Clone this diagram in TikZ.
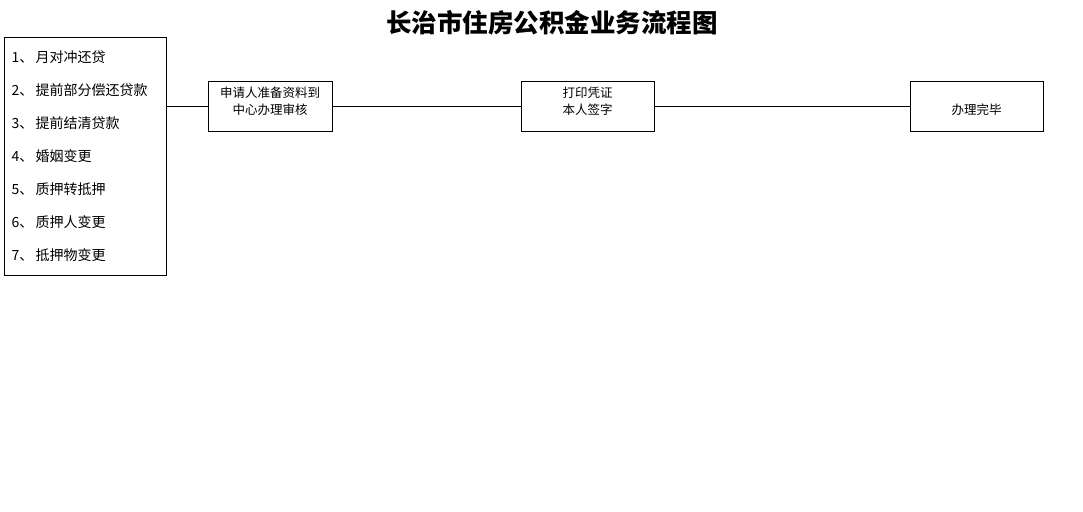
\documentclass[tikz,border=0pt]{standalone}
\usepackage{fontspec}
\newfontfamily\cjk{Noto Sans CJK SC}
\usepackage{tikz}

\begin{document}
\begin{tikzpicture}[x=1pt, y=-1pt, line width=0.8pt,
    every node/.style={font=\cjk},
    stepbox/.style={draw, minimum height=50pt, align=center, inner sep=2pt,
        font=\cjk\fontsize{12.5}{17}\selectfont},
    listbox/.style={draw, align=left, text width=148pt, minimum height=238pt,
        inner xsep=7pt, font=\cjk\fontsize{14}{33}\selectfont}]
    \useasboundingbox (0,0) rectangle (1083,511);

    \node[font=\cjk\bfseries\fontsize{25.5}{30}\selectfont] (title) at (552,23) {长治市住房公积金业务流程图};

    \node[listbox] (list) at (85.5,156) {1、\,月对冲还贷\\2、\,提前部分偿还贷款\\3、\,提前结清贷款\\4、\,婚姻变更\\5、\,质押转抵押\\6、\,质押人变更\\7、\,抵押物变更};

    \node[stepbox, minimum width=124pt] (apply) at (270,106) {申请人准备资料到\\中心办理审核\\[-7pt]\mbox{}};
    \node[stepbox, minimum width=133pt] (print) at (587.5,106) {打印凭证\\本人签字\\[-7pt]\mbox{}};
    \node[stepbox, minimum width=133pt] (done) at (976.5,106) {\phantom{办理完毕}\\办理完毕\\[-7pt]\mbox{}};

    \draw (list.east |- apply.west) -- (apply.west);
    \draw (apply.east) -- (print.west);
    \draw (print.east) -- (done.west);
\end{tikzpicture}
\end{document}
